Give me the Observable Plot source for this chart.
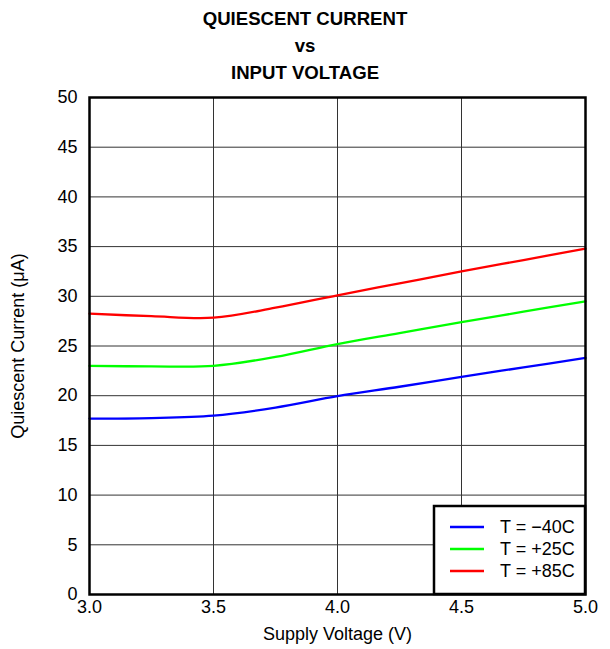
<!DOCTYPE html>
<html>
<head>
<meta charset="utf-8">
<script src="https://cdn.jsdelivr.net/npm/d3@7"></script>
<script src="https://cdn.jsdelivr.net/npm/@observablehq/plot@0.6"></script>
<style>
  body { margin: 0; background: #fff; font-family: "Liberation Sans", Arial, sans-serif; }
  #wrap { position: relative; width: 610px; }
  #title { text-align: center; font-weight: bold; font-size: 18.6px; line-height: 27px; padding-top: 5px; height: 80px; color: #000; }
</style>
</head>
<body>
<div id="wrap">
  <div id="title">QUIESCENT CURRENT<br>vs<br>INPUT VOLTAGE</div>
  <div id="chart"></div>
</div>
<script>
const voltages = [3.0, 3.25, 3.5, 3.75, 4.0, 4.25, 4.5, 4.75, 5.0];
const seriesNames = ["T = \u221240C", "T = +25C", "T = +85C"];
const seriesColors = ["#0000ff", "#00ff00", "#ff0000"];
const currentM40 = [17.7, 17.75, 18.0, 18.8, 19.95, 20.9, 21.9, 22.85, 23.8];
const current25 = [23.0, 22.95, 23.0, 23.9, 25.2, 26.3, 27.4, 28.45, 29.5];
const current85 = [28.25, 28.0, 27.85, 28.85, 30.1, 31.3, 32.5, 33.65, 34.8];
const xTicks = [3.0, 3.5, 4.0, 4.5, 5.0];
const yTicks = [0, 5, 10, 15, 20, 25, 30, 35, 40, 45, 50];

const allSeries = [currentM40, current25, current85];
const data = [];
allSeries.forEach((vals, i) => vals.forEach((v, j) => data.push({series: seriesNames[i], x: voltages[j], y: v})));

const W = 610, H = 564;
const mL = 89, mR = 25, mT = 12, mB = 55;

const chart = Plot.plot({
  width: W, height: H,
  marginLeft: mL, marginRight: mR, marginTop: mT, marginBottom: mB,
  style: {fontFamily: "Liberation Sans, Arial, sans-serif", fontSize: "18px", color: "#000", background: "#fff"},
  x: {domain: [3, 5], ticks: xTicks, tickFormat: d => d.toFixed(1), label: null},
  y: {domain: [0, 50], ticks: yTicks, label: null},
  color: {domain: seriesNames, range: seriesColors},
  marks: [
    Plot.gridX(xTicks, {stroke: "#333", strokeOpacity: 1, strokeWidth: 1}),
    Plot.gridY(yTicks, {stroke: "#333", strokeOpacity: 1, strokeWidth: 1}),
    Plot.axisX(xTicks, {tickSize: 0, tickPadding: 6, tickFormat: d => d.toFixed(1), fontSize: 18, label: "Supply Voltage (V)", labelAnchor: "center", labelArrow: "none", labelOffset: 45}),
    Plot.axisY(yTicks, {tickSize: 0, tickPadding: 12, fontSize: 18, label: "Quiescent Current (\u03bcA)", labelAnchor: "center", labelArrow: "none", labelOffset: 78}),
    Plot.line(data, {x: "x", y: "y", z: "series", stroke: "series", strokeWidth: 2.3, curve: "catmull-rom"}),
    Plot.frame({stroke: "#000", strokeWidth: 2.5})
  ]
});
document.getElementById("chart").appendChild(chart);

// legend box inside the lower-right corner of the plot
const svg = d3.select(chart);
const sx = chart.scale("x"), sy = chart.scale("y");
const right = sx.apply(5), bottom = sy.apply(0);
const lw = 151, lh = 88;
const g = svg.append("g").attr("transform", `translate(${right - lw},${bottom - lh})`);
g.append("rect").attr("x", 0).attr("y", 0).attr("width", lw).attr("height", lh)
  .attr("fill", "#fff").attr("stroke", "#000").attr("stroke-width", 2.5);
seriesNames.forEach((name, i) => {
  const yy = 21 + i * 22;
  g.append("line").attr("x1", 16).attr("x2", 50).attr("y1", yy).attr("y2", yy)
    .attr("stroke", seriesColors[i]).attr("stroke-width", 2.3);
  g.append("text").attr("x", 66).attr("y", yy).attr("dy", "0.35em")
    .attr("text-anchor", "start").attr("font-size", 18).attr("fill", "#000").text(name);
});
</script>
</body>
</html>
